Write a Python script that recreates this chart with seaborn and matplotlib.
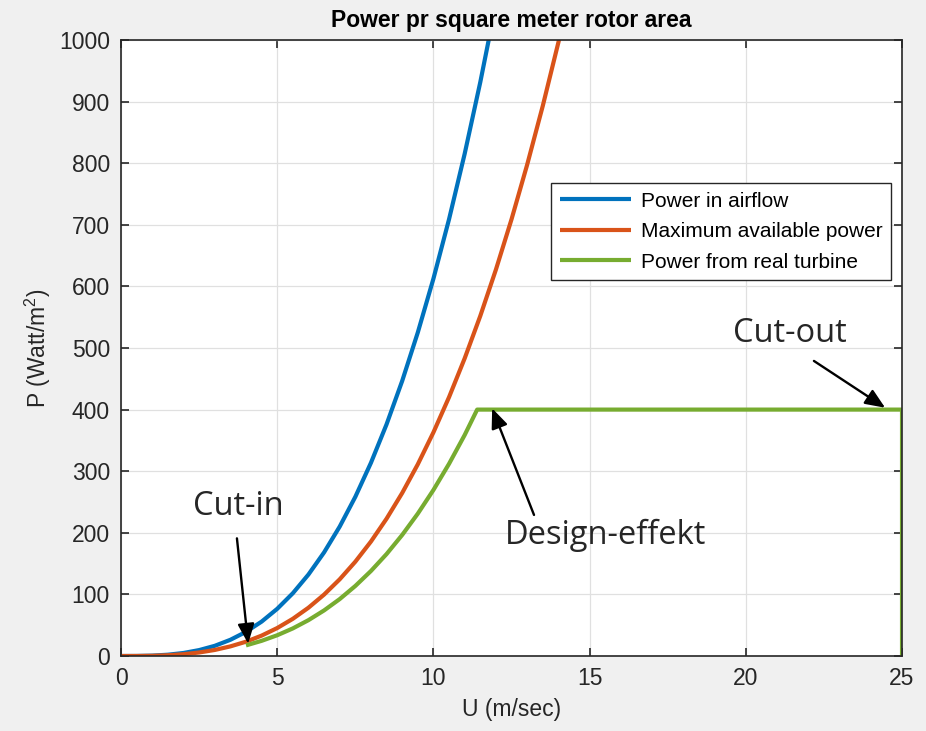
import matplotlib
matplotlib.use("Agg")
import matplotlib.pyplot as plt
import seaborn as sns
import pandas as pd

# Wind speed (m/s) and power per m^2
u_blue = [0, 0.5, 1, 1.5, 2, 2.5, 3, 3.5, 4, 4.5, 5, 5.5, 6, 6.5, 7, 7.5, 8,
          8.5, 9, 9.5, 10, 10.5, 11, 11.5, 12]
p_blue = [0, 0.08, 0.6, 2.1, 4.9, 9.6, 16.5, 26.3, 39.2, 55.8, 76.6, 101.9,
          132.3, 168.2, 210.1, 258.4, 313.6, 376.1, 446.5, 525.2, 612.5,
          709.0, 815.2, 931.5, 1058.4]

u_orange = [0, 0.5, 1, 1.5, 2, 2.5, 3, 3.5, 4, 4.5, 5, 5.5, 6, 6.5, 7, 7.5,
            8, 8.5, 9, 9.5, 10, 10.5, 11, 11.5, 12, 12.5, 13, 13.5, 14, 14.5]
p_orange = [0, 0.05, 0.36, 1.2, 2.9, 5.7, 9.8, 15.6, 23.2, 33.1, 45.4, 60.4,
            78.4, 99.7, 124.5, 153.1, 185.8, 222.9, 264.6, 311.2, 363.0,
            420.2, 483.1, 552.0, 627.2, 708.9, 797.4, 892.9, 996.0, 1106.6]

u_green = [4, 4.5, 5, 5.5, 6, 6.5, 7, 7.5, 8, 8.5, 9, 9.5, 10, 10.5, 11,
           11.4, 25, 25]
p_green = [17.2, 24.6, 33.7, 44.8, 58.2, 74.0, 92.4, 113.7, 138.0, 165.5,
           196.5, 231.1, 269.5, 312.0, 358.7, 400, 400, 0]

labels = ["Power in airflow", "Maximum available power",
          "Power from real turbine"]
colors = ["#0072BD", "#D95319", "#77AC30"]
x_ticks = [0, 5, 10, 15, 20, 25]
y_ticks = [0, 100, 200, 300, 400, 500, 600, 700, 800, 900, 1000]

sns.set_theme(style="whitegrid")
plt.rcParams["font.family"] = ["Liberation Sans", "DejaVu Sans"]
plt.rcParams["mathtext.fontset"] = "custom"
plt.rcParams["mathtext.rm"] = "Liberation Sans"
plt.rcParams["mathtext.it"] = "Liberation Sans:italic"

fig = plt.figure(figsize=(9.26, 7.31), dpi=100)
fig.patch.set_facecolor("#f0f0f0")
ax = fig.add_axes([0.1307, 0.1026, 0.8434, 0.8427])
ax.set_facecolor("white")

series = [(u_blue, p_blue), (u_orange, p_orange), (u_green, p_green)]
for (u, p), lab, col in zip(series, labels, colors):
    df = pd.DataFrame({"U": u, "P": p})
    sns.lineplot(data=df, x="U", y="P", ax=ax, color=col, linewidth=3.0,
                 label=lab, sort=False, estimator=None, solid_capstyle="butt")

ax.set_xlim(0, 25)
ax.set_ylim(0, 1000)
ax.set_xticks(x_ticks)
ax.set_yticks(y_ticks)
ax.tick_params(axis="both", which="both", direction="in", length=6,
               width=1.2, colors="#262626", labelsize=16.5, top=True,
               right=True, bottom=True, left=True, pad=8)
for lab in ax.get_xticklabels() + ax.get_yticklabels():
    lab.set_color("#262626")
ax.grid(True, color="#e0e0e0", linewidth=0.9)
for s in ax.spines.values():
    s.set_visible(True)
    s.set_color("#262626")
    s.set_linewidth(1.2)

ax.set_xlabel("U (m/sec)", fontsize=16.5, color="#262626", labelpad=6)
ax.set_ylabel("P (Watt/m$^2$)", fontsize=16.5, color="#262626", labelpad=4)
ax.set_title("Power pr square meter rotor area", fontsize=16.5,
             fontweight="bold", color="black", pad=9)

leg = ax.legend(loc="upper left", bbox_to_anchor=(0.5506, 0.768),
                fontsize=15.0, frameon=True, fancybox=False, framealpha=1,
                edgecolor="#262626", handlelength=3.4, borderpad=0.42,
                labelspacing=0.55, handletextpad=0.5, borderaxespad=0)
leg.get_frame().set_linewidth(1.0)
for t in leg.get_texts():
    t.set_color("black")

ann_font = ["Open Sans", "DejaVu Sans"]
arrow = dict(arrowstyle="-|>,head_length=1.0,head_width=0.42", color="black",
             lw=1.7, shrinkA=0, shrinkB=0)
ax.text(3.75, 243, "Cut-in", fontsize=23.5, family=ann_font, ha="center",
        va="center")
ax.annotate("", xy=(4.07, 20), xytext=(3.71, 191), arrowprops=arrow)
ax.text(15.5, 196, "Design-effekt", fontsize=23.5, family=ann_font,
        ha="center", va="center")
ax.annotate("", xy=(11.88, 402), xytext=(13.22, 229), arrowprops=arrow)
ax.text(21.4, 524, "Cut-out", fontsize=23.5, family=ann_font, ha="center",
        va="center")
ax.annotate("", xy=(24.46, 403), xytext=(22.18, 479), arrowprops=arrow)

fig.savefig("out.png", dpi=100, facecolor=fig.get_facecolor())
